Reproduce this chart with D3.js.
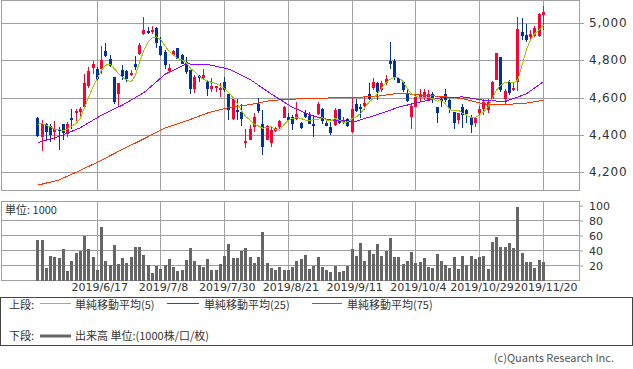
<!DOCTYPE html>
<html><head><meta charset="utf-8">
<script src="https://cdn.jsdelivr.net/npm/d3@7"></script>
<style>body{margin:0;background:#fff}svg{display:block}</style>
</head><body><svg id="c" width="633" height="369"></svg>
<script>
// ---- data ----
const opens=[4495,4391,4463,4449,4420,4436,4458,4409,4495,4522,4526,4549,4663,4762,4758,4758,4853,4807,4712,4620,
4749,4746,4722,4785,4835,4943,4959,4957,4978,4878,4848,4746,4830,4866,4830,4794,4749,4646,4717,4708,
4687,4649,4653,4642,4687,4620,4488,4535,4526,4359,4377,4445,4570,4463,4377,4359,4424,4445,4495,4499,
4499,4486,4466,4517,4502,4463,4513,4542,4466,4445,4454,4540,4468,4486,4418,4570,4549,4556,4624,4656,
4678,4642,4678,4800,4800,4710,4687,4619,4499,4552,4603,4606,4588,4624,4552,4592,4624,4588,4526,4484,
4552,4538,4499,4466,4517,4543,4538,4597,4699,4821,4592,4687,4642,4687,4955,4937,4928,4932,4932,5045];
const highs=[4498,4481,4467,4460,4477,4445,4463,4472,4542,4542,4549,4728,4767,4798,4767,4878,4893,4830,4714,4681,
4776,4749,4749,4825,4893,5036,4982,4986,4982,4925,4857,4785,4860,4871,4835,4821,4749,4722,4722,4758,
4696,4710,4667,4678,4714,4621,4597,4592,4567,4436,4454,4517,4601,4535,4454,4445,4445,4484,4556,4517,
4508,4579,4472,4538,4526,4508,4579,4544,4484,4472,4544,4540,4499,4495,4606,4597,4570,4603,4681,4705,
4687,4690,4722,4902,4812,4714,4692,4642,4561,4615,4646,4646,4642,4633,4553,4610,4646,4592,4527,4520,
4570,4543,4508,4492,4556,4597,4597,4692,4843,4822,4646,4696,4687,5036,5027,5000,4964,4986,5054,5093];
const lows=[4390,4316,4373,4364,4373,4320,4373,4391,4431,4477,4499,4544,4656,4731,4696,4728,4821,4767,4570,4556,
4696,4687,4717,4749,4830,4939,4946,4943,4871,4825,4758,4735,4825,4807,4782,4731,4624,4628,4687,4704,
4612,4633,4633,4603,4633,4484,4484,4484,4449,4334,4373,4418,4520,4293,4373,4338,4418,4436,4490,4481,
4427,4481,4433,4490,4459,4391,4508,4463,4449,4400,4449,4463,4463,4445,4413,4526,4495,4535,4588,4642,
4588,4633,4669,4758,4696,4678,4633,4579,4436,4549,4585,4588,4585,4574,4468,4552,4579,4517,4436,4459,
4440,4467,4413,4445,4508,4508,4517,4592,4696,4633,4570,4615,4638,4640,4910,4902,4910,4925,4928,4964];
const closes=[4395,4463,4418,4400,4431,4424,4413,4463,4484,4531,4540,4678,4744,4785,4701,4803,4825,4773,4579,4678,
4717,4701,4735,4767,4887,4964,4950,4964,4896,4830,4776,4762,4853,4812,4785,4740,4651,4714,4706,4722,
4646,4663,4663,4656,4642,4538,4592,4526,4486,4370,4436,4499,4529,4338,4450,4427,4440,4477,4552,4484,
4459,4513,4440,4499,4459,4449,4567,4477,4449,4413,4535,4466,4481,4449,4543,4529,4542,4574,4594,4687,
4633,4678,4701,4785,4710,4681,4642,4585,4556,4606,4624,4633,4619,4588,4520,4585,4588,4543,4467,4517,
4508,4513,4454,4490,4543,4579,4579,4687,4842,4642,4638,4628,4654,4973,4934,4914,4946,4978,5050,5063];
const volumes=[54,54,17,33,31,30,42,13,26,37,39,60,42,31,14,71,26,21,47,22,
30,23,31,45,45,34,21,10,19,15,21,29,18,13,14,27,43,26,21,18,
29,14,14,22,33,49,30,30,39,43,31,23,31,65,23,17,14,18,14,14,
18,26,29,34,15,20,31,18,14,11,19,11,13,20,42,33,50,26,41,35,
49,33,39,57,31,31,22,26,38,23,25,30,18,17,35,26,21,17,31,15,
33,21,33,29,31,33,15,51,58,45,45,50,43,98,37,25,25,17,27,25];
const ma5=[4459,4463,4454,4445,4431,4431,4424,4436,4449,4463,4490,4549,4606,4660,4705,4749,4776,4782,4758,4732,
4710,4696,4687,4723,4794,4857,4902,4923,4928,4911,4878,4848,4830,4812,4803,4789,4758,4740,4717,4699,
4692,4683,4678,4664,4651,4628,4601,4570,4529,4499,4481,4459,4449,4438,4443,4445,4431,4427,4459,4481,
4490,4495,4490,4481,4477,4485,4486,4495,4481,4477,4490,4481,4468,4472,4490,4499,4517,4549,4579,4597,
4624,4656,4683,4701,4710,4708,4689,4649,4624,4608,4603,4604,4603,4597,4583,4588,4567,4538,4531,4535,
4517,4508,4495,4495,4508,4526,4553,4597,4642,4669,4683,4687,4681,4696,4776,4857,4914,4946,4964,4991];
const maIdx=[0,5,10,15,20,25,30,35,40,45,50,55,60,65,70,75,80,85,90,95,100,105,110,115,119];
const ma25=[4361,4393,4440,4508,4563,4629,4728,4783,4780,4755,4699,4621,4549,4501,4477,4476,4511,4551,4579,4601,4606,4588,4581,4622,4687];
const ma75=[4132,4160,4211,4266,4325,4381,4440,4477,4520,4549,4565,4587,4594,4598,4601,4603,4610,4626,4617,4608,4597,4568,4565,4572,4588];
const priceTicks=[4200,4400,4600,4800,5000];
const volTicks=[20,40,60,80,100];
const volGrid=[20,40,60,80];
const dateTickIdx=[14,29,44,59,74,89,104,119];
const dateTickLabels=["2019/6/17","2019/7/8","2019/7/30","2019/8/21","2019/9/11","2019/10/4","2019/10/29","2019/11/20"];

// ---- layout ----
const svg=d3.select("#c");
const PL=1.5,PR=579.5,PT=0.5,PB=190.5,VT=201.5,VB=280.5;
const UP="#ff0033",DN="#003399",GRID="#a0a0a0";
const CJK="'Noto Sans CJK JP','Noto Sans',sans-serif", NUM="'DejaVu Sans',sans-serif";
const x=d3.scaleLinear().domain([0,119]).range([37.8,37.8+4.2476*119]);
const y=d3.scaleLinear().domain([4200,5000]).range([172.5,23.5]);
const yv=d3.scaleLinear().domain([0,80]).range([280.5,220.5]);
const cr=v=>Math.round(v-0.5)+0.5;
const fx=v=>Math.floor(v)+0.5;

// price panel grid
const g1=svg.append("g");
g1.selectAll("line.h").data(priceTicks).join("line")
  .attr("x1",PL).attr("x2",PR).attr("y1",d=>cr(y(d))).attr("y2",d=>cr(y(d)))
  .attr("stroke",GRID);
g1.selectAll("line.v").data(dateTickIdx).join("line")
  .attr("x1",d=>fx(x(d))).attr("x2",d=>fx(x(d))).attr("y1",PT).attr("y2",PB)
  .attr("stroke",GRID);
g1.append("rect").attr("x",PL).attr("y",PT).attr("width",PR-PL).attr("height",PB-PT)
  .attr("fill","none").attr("stroke",GRID);

// volume panel grid
const g2=svg.append("g");
g2.selectAll("line.h").data(volGrid).join("line")
  .attr("x1",PL).attr("x2",PR).attr("y1",d=>cr(yv(d))).attr("y2",d=>cr(yv(d)))
  .attr("stroke",GRID);
g2.selectAll("line.v").data(dateTickIdx).join("line")
  .attr("x1",d=>fx(x(d))).attr("x2",d=>fx(x(d))).attr("y1",VT).attr("y2",VB)
  .attr("stroke",GRID);
g2.append("rect").attr("x",PL).attr("y",VT).attr("width",PR-PL).attr("height",VB-VT)
  .attr("fill","none").attr("stroke",GRID);

// candles
const idx=d3.range(opens.length);
const cg=svg.append("g").attr("shape-rendering","crispEdges");
cg.selectAll("line.w").data(idx).join("line")
  .attr("x1",i=>fx(x(i))).attr("x2",i=>fx(x(i)))
  .attr("y1",i=>Math.round(y(highs[i]))).attr("y2",i=>Math.round(y(lows[i])))
  .attr("stroke",i=>closes[i]>=opens[i]?UP:DN);
cg.selectAll("rect.b").data(idx).join("rect")
  .attr("x",i=>Math.floor(x(i))-1).attr("width",3)
  .attr("y",i=>Math.round(y(Math.max(opens[i],closes[i]))))
  .attr("height",i=>Math.max(1,Math.round(y(Math.min(opens[i],closes[i])))-Math.round(y(Math.max(opens[i],closes[i])))))
  .attr("fill",i=>closes[i]>=opens[i]?UP:DN);

// moving averages
const line=d3.line().x(d=>x(d[0])).y(d=>y(d[1]));
svg.append("path").datum(maIdx.map((d,k)=>[d,ma75[k]]))
  .attr("d",line).attr("fill","none").attr("stroke","#ff3300").attr("stroke-width",1).attr("shape-rendering","crispEdges");
svg.append("path").datum(maIdx.map((d,k)=>[d,ma25[k]]))
  .attr("d",line).attr("fill","none").attr("stroke","#9900ff").attr("stroke-width",1).attr("shape-rendering","crispEdges");
svg.append("path").datum(ma5.map((v,i)=>[i,v]))
  .attr("d",line).attr("fill","none").attr("stroke","#99cc00").attr("stroke-width",1).attr("shape-rendering","crispEdges");

// volume bars
svg.append("g").attr("shape-rendering","crispEdges").selectAll("rect").data(idx).join("rect")
  .attr("x",i=>Math.floor(x(i))-1).attr("width",3)
  .attr("y",i=>yv(volumes[i])).attr("height",i=>yv(0)-yv(volumes[i]))
  .attr("fill","#666666");

// axes
const ax1=svg.append("g").attr("transform",`translate(${PR-0.5},0)`)
  .call(d3.axisRight(y).tickValues(priceTicks).tickSize(5).tickPadding(5).tickFormat(d3.format(",")));
ax1.select(".domain").remove();
ax1.selectAll(".tick line").attr("stroke",GRID).attr("transform","translate(0,0)");
ax1.selectAll(".tick").attr("transform",d=>`translate(0,${cr(y(d))})`);
ax1.selectAll("text").attr("font-family",NUM).attr("font-size",12).attr("fill","#333").attr("letter-spacing","0.8px");

const ax2=svg.append("g").attr("transform",`translate(${PR-0.5},0)`)
  .call(d3.axisRight(yv).tickValues(volTicks).tickSize(4).tickPadding(6));
ax2.select(".domain").remove();
ax2.selectAll(".tick line").attr("stroke",GRID);
ax2.selectAll("text").attr("font-family",NUM).attr("font-size",11).attr("fill","#333");

const ax3=svg.append("g").attr("transform",`translate(0,${VB+1})`)
  .call(d3.axisBottom(x).tickValues(dateTickIdx).tickSize(0).tickPadding(2).tickFormat((d,k)=>dateTickLabels[k]));
ax3.select(".domain").remove();
ax3.selectAll("text").attr("font-family",NUM).attr("font-size",11).attr("fill","#333").attr("dx",2);

svg.append("text").attr("x",5).attr("y",214).attr("font-family",CJK).attr("font-size",11).attr("fill","#333").text("単位: 1000");

// legend
const lg=svg.append("g");
lg.append("rect").attr("x",0.5).attr("y",297.5).attr("width",632).attr("height",48).attr("fill","none").attr("stroke","#444");
const tx=(xx,yy,s)=>lg.append("text").attr("x",xx).attr("y",yy).attr("font-family",CJK).attr("font-size",11).attr("fill","#333").text(s);
tx(9,308.5,"上段:");
lg.append("line").attr("x1",40).attr("x2",71).attr("y1",303.5).attr("y2",303.5).attr("stroke","#99cc00");
tx(75,308.5,"単純移動平均(5)");
lg.append("line").attr("x1",167).attr("x2",199).attr("y1",303.5).attr("y2",303.5).attr("stroke","#9900ff");
tx(204,308.5,"単純移動平均(25)");
lg.append("line").attr("x1",312).attr("x2",342).attr("y1",303.5).attr("y2",303.5).attr("stroke","#ff3300");
tx(347,308.5,"単純移動平均(75)");
tx(9,340,"下段:");
lg.append("line").attr("x1",40).attr("x2",71).attr("y1",336).attr("y2",336).attr("stroke","#666").attr("stroke-width",3);
tx(75,340,"出来高 単位:(1000株/口/枚)");

svg.append("text").attr("x",614).attr("y",362).attr("text-anchor","end").attr("font-family",CJK)
  .attr("font-size",11).attr("fill","#555").text("(c)Quants Research Inc.");
</script></body></html>
